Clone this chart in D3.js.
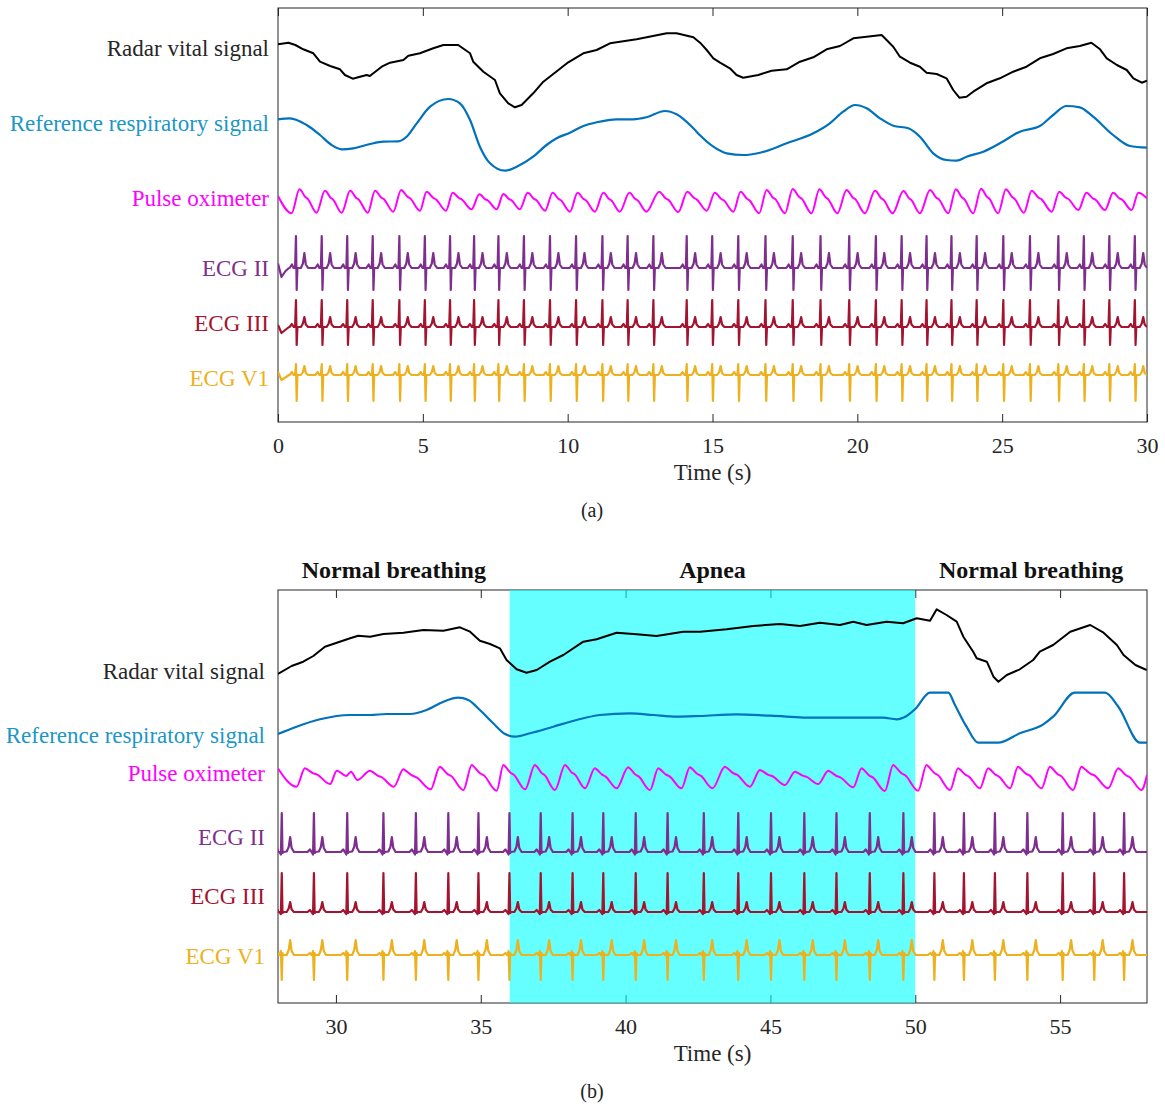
<!DOCTYPE html>
<html><head><meta charset="utf-8">
<script src="https://cdn.jsdelivr.net/npm/d3@7"></script>
<style>
body{margin:0;background:#fff}
svg{display:block}
text{font-family:"Liberation Serif","Times New Roman",serif}
</style>
</head><body>
<svg id="chart" width="1165" height="1104"></svg>
<script>
// ---------------- DATA ----------------
const seriesNames = ["Radar vital signal","Reference respiratory signal","Pulse oximeter","ECG II","ECG III","ECG V1"];
const xTicksA = [0,5,10,15,20,25,30];
const xTicksB = [30,35,40,45,50,55];
const phaseNames = ["Normal breathing","Apnea","Normal breathing"];
const phaseBounds = [28,36,50,58];
const apneaRange = [36,50];
const labelPosA = [37.4,29.9,22.4,15.4,9.9,4.4];
const labelPosB = [33.2,26.8,23.0,16.6,10.7,4.7];

// Radar vital signal, panel (a): [time s, value a.u.]
const radarA = [[0,37.77],[0.36,37.93],[0.6,37.7],[0.87,37.27],[1.22,36.87],[1.45,36.03],[1.8,35.6],[2.14,35.27],[2.31,34.7],[2.58,34.33],[2.8,34.5],[3.06,34.7],[3.17,34.6],[3.58,35.53],[3.87,35.93],[4.33,36.2],[4.5,36.63],[4.9,36.87],[5.36,37.37],[5.71,37.7],[6.22,37.7],[6.63,36.87],[6.74,36.03],[7.09,35.03],[7.49,34.2],[7.66,32.87],[7.95,31.87],[8.18,31.47],[8.41,31.7],[8.81,32.87],[9.16,34.03],[9.68,35.2],[10.02,35.97],[10.54,36.87],[11.0,37.2],[11.46,37.87],[12.38,38.27],[13.42,38.87],[13.76,38.87],[14.34,38.47],[14.57,37.93],[14.8,37.2],[15.03,36.37],[15.26,35.93],[15.6,35.37],[15.83,34.7],[16.06,34.43],[16.58,34.7],[17.04,35.13],[17.56,35.27],[18.02,36.03],[18.48,36.47],[18.94,37.27],[19.4,37.6],[19.86,38.37],[20.32,38.53],[20.84,38.7],[21.24,37.53],[21.47,36.53],[21.82,35.93],[22.16,35.53],[22.39,34.93],[22.74,34.8],[23.08,34.37],[23.31,33.2],[23.52,32.43],[23.77,32.53],[24.0,33.03],[24.46,33.87],[24.92,34.37],[25.38,35.03],[25.84,35.53],[26.3,36.37],[26.76,36.8],[27.22,37.37],[27.68,37.6],[28.08,37.93],[28.38,37.27],[28.61,36.37],[28.96,35.7],[29.3,35.2],[29.53,34.37],[29.82,33.93],[30,34.13]];

// Reference respiratory signal, panel (a)
const refA = [[0,30.27],[0.41,30.37],[0.99,29.7],[1.45,28.7],[1.85,27.7],[2.2,27.27],[2.6,27.37],[3.18,27.8],[3.64,28.03],[4.15,28.07],[4.44,28.53],[4.79,29.87],[5.25,31.53],[5.88,32.3],[6.28,31.87],[6.63,30.2],[6.97,27.53],[7.32,25.87],[7.84,25.13],[8.24,25.53],[8.81,26.53],[9.27,27.7],[9.62,28.37],[10.08,28.93],[10.54,29.6],[11.0,29.97],[11.69,30.27],[12.26,30.27],[12.72,30.47],[13.36,31.1],[13.76,30.77],[14.34,29.37],[14.56,28.7],[15.03,27.53],[15.49,26.87],[16.06,26.7],[16.64,26.93],[17.56,27.87],[18.48,28.87],[19.05,29.87],[19.51,31.03],[19.92,31.7],[20.32,31.37],[20.78,30.37],[21.24,29.63],[21.76,29.37],[22.16,28.53],[22.62,26.87],[23.08,26.2],[23.43,26.13],[23.77,26.53],[24.35,27.03],[24.92,27.87],[25.61,29.03],[26.3,29.6],[26.76,30.7],[27.22,31.6],[27.68,31.47],[28.14,30.53],[28.83,28.7],[29.41,27.6],[30,27.43]];

// Pulse oximeter, panel (a): troughs and peaks
const pulseStartA = [0,22.6];
const pulseEndA = [30,22.37];
const pulseTroughTA = [0.47,1.33,2.2,3.1,3.98,4.9,5.8,6.68,7.55,8.35,9.22,10.08,10.94,11.8,12.72,13.82,14.8,15.72,16.61,17.5,18.42,19.31,20.26,21.22,22.16,23.14,24.0,24.86,25.75,26.71,27.63,28.55,29.47];
const pulseTroughVA = [20.87,20.93,20.93,20.93,21.03,21.13,21.13,21.27,21.27,21.27,21.13,21.03,21.03,21.03,21.03,21.0,21.13,21.03,20.87,20.87,20.87,20.87,20.87,20.87,20.87,20.87,20.87,20.87,20.93,21.03,21.2,21.2,21.2];
const pulsePeakTA = [0.74,1.62,2.49,3.35,4.25,5.13,6.03,6.95,7.78,8.62,9.48,10.34,11.23,12.13,13.16,14.13,15.08,15.97,16.87,17.77,18.69,19.63,20.61,21.59,22.51,23.4,24.27,25.13,26.02,26.97,27.91,28.83,29.7];
const pulsePeakVA = [23.27,23.13,23.13,23.13,23.2,23.03,22.93,22.77,22.8,22.93,22.93,22.93,22.93,22.93,23.03,23.03,22.93,23.03,23.2,23.3,23.27,23.2,23.13,23.1,23.2,23.27,23.33,23.27,23.13,23.03,22.93,22.93,22.93];

// ECG R-peak times, panel (a)
const beatsA = [0.62,1.51,2.39,3.27,4.19,5.07,5.94,6.77,7.61,8.49,9.39,10.29,11.2,12.07,12.96,14.11,14.99,15.89,16.83,17.77,18.73,19.72,20.64,21.53,22.39,23.25,24.12,25.04,25.96,26.94,27.82,28.7,29.58];
const ecgBaseA = [15.4,9.5,4.7];
// beat shape (offsets from R in s) and lead amplitudes
const beatOffsets = [-0.22,-0.14,-0.08,-0.03,0,0.025,0.05,0.17,0.24,0.29,0.34,0.42];
const shapeA_II  = [0,0.35,0,0,3.2,-2.2,0,0,0.45,1.5,0.35,0];
const shapeA_III = [0,0.3,0,0,2.7,-1.8,0,0,0.35,1.0,0.25,0];
const shapeA_V1  = [0,0.3,0,0,1.1,-2.6,0,0,0.3,0.9,0.2,0];
const ecgStartA_II  = [[0,0.45],[0.12,-0.9],[0.26,-0.3],[0.38,0]];
const ecgStartA_III = [[0,0.2],[0.12,-0.6],[0.38,0]];
const ecgStartA_V1  = [[0,0.3],[0.12,-0.5],[0.38,0]];

// Radar vital signal, panel (b)
const radarB = [[28.0,32.9],[28.47,33.7],[28.87,34.13],[29.22,34.7],[29.62,35.63],[30.03,36.03],[30.49,36.47],[30.77,36.73],[31.18,36.63],[31.64,36.9],[32.33,37.03],[33.02,37.3],[33.71,37.23],[34.28,37.57],[34.63,37.13],[34.97,36.23],[35.32,35.9],[35.66,35.47],[35.89,34.3],[36.24,33.37],[36.58,33.03],[36.93,33.3],[37.39,34.13],[37.85,34.8],[38.54,36.13],[39.0,36.37],[39.69,37.03],[40.38,36.87],[41.07,36.7],[41.99,37.13],[42.57,37.13],[43.49,37.37],[44.41,37.7],[45.33,37.9],[46.02,37.7],[46.71,38.03],[47.4,37.8],[47.86,38.13],[48.32,37.8],[49.01,38.13],[49.58,37.97],[50.05,38.47],[50.51,38.23],[50.74,39.37],[51.08,38.8],[51.43,38.13],[51.66,36.63],[52.0,35.13],[52.12,34.47],[52.47,34.13],[52.7,32.63],[52.87,32.13],[53.16,32.8],[53.61,33.37],[54.07,34.3],[54.3,35.13],[54.76,35.8],[55.35,37.13],[56.04,37.8],[56.5,37.03],[56.96,35.8],[57.19,34.8],[57.6,33.8],[57.99,33.3]];

// Reference respiratory signal, panel (b)
const refB = [[28,26.9],[28.64,27.63],[29.45,28.37],[30.49,28.8],[31.18,28.8],[31.75,28.9],[32.56,28.9],[33.13,29.3],[33.71,30.13],[34.22,30.53],[34.57,30.3],[34.97,29.3],[35.43,27.97],[35.84,26.9],[36.18,26.63],[36.7,26.97],[37.5,27.63],[38.31,28.3],[39.11,28.8],[40.15,28.97],[40.95,28.8],[41.76,28.63],[42.57,28.7],[43.83,28.87],[45.0,28.73],[46.59,28.53],[47.75,28.53],[48.89,28.53],[49.36,28.37],[49.7,28.7],[49.99,29.37],[50.51,31.03],[51.14,31.03],[51.37,29.8],[51.77,27.63],[52.17,26.03],[52.86,26.03],[53.61,26.97],[54.42,27.87],[54.76,28.63],[55.51,31.03],[56.55,31.03],[57.01,29.63],[57.76,26.03],[58,26.03]];

// Pulse oximeter, panel (b)
const pulseStartB = [28,23.45];
const pulseEndB = [58,22.8];
const pulseTroughTB = [28.64,29.8,30.35,30.74,32.0,33.27,34.4,35.55,36.53,37.56,38.6,39.69,40.84,41.93,43.0,44.29,45.5,46.65,47.86,48.95,50.1,51.2,52.23,53.27,54.36,55.45,56.66,57.81];
const pulseTroughVB = [21.63,21.9,22.7,22.3,21.63,21.37,21.3,21.23,21.37,21.3,21.47,21.47,21.3,21.47,21.47,21.63,21.8,21.9,21.57,21.2,21.23,21.3,21.47,21.47,21.47,21.3,21.47,21.3];
const pulsePeakTB = [28.93,30.03,30.52,31.18,32.33,33.59,34.69,35.78,36.87,37.91,38.94,40.09,41.13,42.22,43.43,44.64,45.85,47.0,48.15,49.24,50.39,51.48,52.52,53.55,54.65,55.74,57.01];
const pulsePeakVB = [23.47,23.23,23.13,23.23,23.37,23.63,23.8,23.8,23.8,23.8,23.47,23.57,23.47,23.57,23.63,23.3,23.13,23.23,23.47,23.8,23.8,23.47,23.47,23.63,23.63,23.63,23.47];

// ECG R-peak times, panel (b)
const beatsB = [28.13,29.24,30.39,31.64,32.76,33.88,34.92,35.99,37.07,38.17,39.23,40.35,41.45,42.7,43.89,45.02,46.17,47.28,48.43,49.59,50.66,51.68,52.75,53.87,55.09,56.18,57.21];
const ecgBaseB = [15.1,9.1,4.8];
const shapeB_II  = [0,0.25,0,-0.25,3.9,-0.1,0,0.05,0.5,1.5,0.4,0];
const shapeB_III = [0,0.2,0,-0.2,3.9,-0.1,0,0,0.35,1.0,0.25,0];
const shapeB_V1  = [0,0.2,0,0.4,-2.5,0.2,0,0,0.5,1.5,0.4,0];

// ---------------- STYLE ----------------
const lineColors = ["#000000","#0072BD","#FF00FF","#7E2F8E","#A2142F","#EDB120"];
const labelColors = ["#262626","#1a97c7","#FF00FF","#7E2F8E","#A2142F","#EDB120"];
const axisColor = "#262626";

// ---------------- BUILD POINTS ----------------
function pulsePoints(start, tT, vT, tP, vP, end){
  const pts=[start];
  for(let i=0;i<tT.length;i++){
    pts.push([tT[i],vT[i]]);
    if(i<tP.length){
      pts.push([tP[i],vP[i]]);
      const nt = i+1<tT.length ? tT[i+1] : end[0];
      const nv = i+1<tT.length ? vT[i+1] : end[1];
      const d = nt-tP[i], a = vP[i]-nv;
      if(d>0.35){
        pts.push([tP[i]+0.05, vP[i]-0.04*a]);
        pts.push([tP[i]+0.33*d, vP[i]-0.32*a]);
        pts.push([tP[i]+0.48*d, vP[i]-0.40*a]);
      }
    }
  }
  pts.push(end);
  return pts;
}
function ecgPoints(beats, base, shape, startPts, dom){
  let pts = startPts ? startPts.map(p=>[p[0],base+p[1]]) : [[dom[0],base]];
  beats.forEach(r=>{
    beatOffsets.forEach((o,k)=>pts.push([r+o, base+shape[k]]));
  });
  pts.push([dom[1],base]);
  pts = pts.filter(p=>p[0]>=dom[0]-0.5 && p[0]<=dom[1]+0.5).sort((a,b)=>a[0]-b[0]);
  return pts;
}

// ---------------- DRAW ----------------
const svg = d3.select("#chart");
svg.append("rect").attr("width",1165).attr("height",1104).attr("fill","#fff");

function drawPanel(cfg){
  const x = d3.scaleLinear().domain(cfg.dom).range([278,1147]);
  const y = d3.scaleLinear().domain(cfg.ydom).range([cfg.bottom,cfg.top]);
  const g = svg.append("g");
  const clipId = "clip"+cfg.id;
  svg.append("clipPath").attr("id",clipId).append("rect")
    .attr("x",278).attr("y",cfg.top).attr("width",869).attr("height",cfg.bottom-cfg.top);

  // axes
  const xb = g.append("g").attr("transform",`translate(0,${cfg.bottom})`)
    .call(d3.axisBottom(x).tickValues(cfg.ticks).tickFormat(d3.format("d")).tickSizeInner(-8).tickSizeOuter(0).tickPadding(15));
  const xt = g.append("g").attr("transform",`translate(0,${cfg.top})`)
    .call(d3.axisTop(x).tickValues(cfg.ticks).tickFormat("").tickSizeInner(-8).tickSizeOuter(0));
  [xb,xt].forEach(a=>{a.select(".domain").remove(); a.selectAll("line").attr("stroke",axisColor);});
  xb.selectAll("text").attr("font-size",22).attr("fill",axisColor).attr("font-family","Liberation Serif, serif");
  g.append("rect").attr("x",278).attr("y",cfg.top).attr("width",869).attr("height",cfg.bottom-cfg.top)
    .attr("fill","none").attr("stroke",axisColor).attr("stroke-width",1);

  // y labels
  const yl = g.append("g").attr("transform","translate(278,0)")
    .call(d3.axisLeft(y).tickValues(cfg.labelPos).tickFormat((d,i)=>seriesNames[i]).tickSize(0).tickPadding(cfg.pad));
  yl.select(".domain").remove();
  yl.selectAll("text").attr("font-size",23).attr("font-family","Liberation Serif, serif")
    .attr("fill",(d,i)=>labelColors[i]);

  // apnea shading
  if(cfg.shade){
    g.append("rect").attr("x",x(cfg.shade[0])).attr("y",cfg.top)
      .attr("width",x(cfg.shade[1])-x(cfg.shade[0])).attr("height",cfg.bottom-cfg.top)
      .attr("fill","#00ffff").attr("fill-opacity",0.6);
  }

  const lines = g.append("g").attr("clip-path",`url(#${clipId})`);
  cfg.series.forEach((s,i)=>{
    const gen = d3.line().x(d=>x(d[0])).y(d=>y(d[1])).curve(s.curve||d3.curveLinear);
    lines.append("path").attr("d",gen(s.pts)).attr("fill","none")
      .attr("stroke",lineColors[s.c]).attr("stroke-width",s.w||2).attr("stroke-linejoin","round");
  });

  // x label
  g.append("text").attr("x",x((cfg.dom[0]+cfg.dom[1])/2)).attr("y",cfg.bottom+58)
    .attr("text-anchor","middle").attr("font-size",23).attr("fill",axisColor).text("Time (s)");
  g.append("text").attr("x",592).attr("y",cfg.bottom+95)
    .attr("text-anchor","middle").attr("font-size",20).attr("fill","#222").text(cfg.caption);
  return x;
}

drawPanel({id:"a", dom:[0,30], ydom:[0,41.4], top:8, bottom:422, ticks:xTicksA, labelPos:labelPosA, pad:9, caption:"(a)",
  series:[
    {pts:radarA, c:0, w:2},
    {pts:refA, c:1, w:2.2, curve:d3.curveMonotoneX},
    {pts:pulsePoints(pulseStartA,pulseTroughTA,pulseTroughVA,pulsePeakTA,pulsePeakVA,pulseEndA), c:2, w:2, curve:d3.curveMonotoneX},
    {pts:ecgPoints(beatsA,ecgBaseA[0],shapeA_II,ecgStartA_II,[0,30]), c:3, w:2.2},
    {pts:ecgPoints(beatsA,ecgBaseA[1],shapeA_III,ecgStartA_III,[0,30]), c:4, w:2.2},
    {pts:ecgPoints(beatsA,ecgBaseA[2],shapeA_V1,ecgStartA_V1,[0,30]), c:5, w:2.2}
  ]});

const xB = drawPanel({id:"b", dom:[28,58], ydom:[0,41.3], top:590, bottom:1003, ticks:xTicksB, labelPos:labelPosB, pad:13, caption:"(b)", shade:apneaRange,
  series:[
    {pts:radarB, c:0, w:2},
    {pts:refB, c:1, w:2.2, curve:d3.curveMonotoneX},
    {pts:pulsePoints(pulseStartB,pulseTroughTB,pulseTroughVB,pulsePeakTB,pulsePeakVB,pulseEndB), c:2, w:2, curve:d3.curveMonotoneX},
    {pts:ecgPoints(beatsB,ecgBaseB[0],shapeB_II,null,[28,58]), c:3, w:2.2},
    {pts:ecgPoints(beatsB,ecgBaseB[1],shapeB_III,null,[28,58]), c:4, w:2.2},
    {pts:ecgPoints(beatsB,ecgBaseB[2],shapeB_V1,null,[28,58]), c:5, w:2.2}
  ]});

// phase titles
phaseNames.forEach((n,i)=>{
  svg.append("text").attr("x",xB((phaseBounds[i]+phaseBounds[i+1])/2)).attr("y",578)
    .attr("text-anchor","middle").attr("font-size",24).attr("font-weight","bold").attr("fill","#111").text(n);
});
</script>
</body></html>
